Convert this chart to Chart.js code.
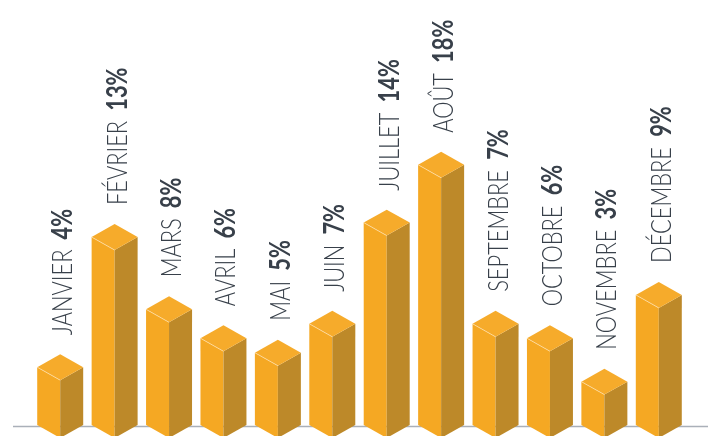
<!DOCTYPE html>
<html>
<head>
<meta charset="utf-8">
<script src="https://cdn.jsdelivr.net/npm/chart.js@4"></script>
<style>
  body { margin: 0; background: #fff; }
  #wrap { width: 708px; height: 436px; }
</style>
</head>
<body>
<div id="wrap"><canvas id="myChart"></canvas></div>
<script>
const months = ['JANVIER', 'FÉVRIER', 'MARS', 'AVRIL', 'MAI', 'JUIN', 'JUILLET', 'AOÛT', 'SEPTEMBRE', 'OCTOBRE', 'NOVEMBRE', 'DÉCEMBRE'];
const shares = [4, 13, 8, 6, 5, 7, 14, 18, 7, 6, 3, 9];
const shareLabels = shares.map(v => v + '%');

// 3d look: front-left face, right face, top
const frontColor = '#f5a823';
const sideColor = '#bd8929';
const topColor = '#f6ab2b';
const textColor = '#38404a';

const prisms = {
  id: 'prisms',
  beforeDatasetsDraw(chart) {
    const ctx = chart.ctx;
    const y = chart.chartArea.bottom + 1.5;
    ctx.save();
    ctx.strokeStyle = '#aab0b9';
    ctx.lineWidth = 1.5;
    ctx.beginPath();
    ctx.moveTo(13, y);
    ctx.lineTo(chart.width, y);
    ctx.stroke();
    ctx.restore();
  },
  afterDatasetsDraw(chart) {
    const ctx = chart.ctx;
    const meta = chart.getDatasetMeta(0);
    meta.data.forEach((bar, i) => {
      const x = bar.x, y = bar.y, base = bar.base;
      const hw = bar.width / 2, dy = hw * 0.565;
      ctx.save();
      // front-left face
      ctx.fillStyle = frontColor;
      ctx.beginPath();
      ctx.moveTo(x - hw, y);
      ctx.lineTo(x, y + dy);
      ctx.lineTo(x, base + dy);
      ctx.lineTo(x - hw, base);
      ctx.closePath();
      ctx.fill();
      // right face
      ctx.fillStyle = sideColor;
      ctx.beginPath();
      ctx.moveTo(x, y + dy);
      ctx.lineTo(x + hw, y);
      ctx.lineTo(x + hw, base);
      ctx.lineTo(x, base + dy);
      ctx.closePath();
      ctx.fill();
      // top
      ctx.fillStyle = topColor;
      ctx.beginPath();
      ctx.moveTo(x - hw, y);
      ctx.lineTo(x, y - dy);
      ctx.lineTo(x + hw, y);
      ctx.lineTo(x, y + dy);
      ctx.closePath();
      ctx.fill();
      // light edge
      ctx.strokeStyle = 'rgba(255,232,190,0.8)';
      ctx.lineWidth = 0.8;
      ctx.beginPath();
      ctx.moveTo(x - hw, y);
      ctx.lineTo(x, y + dy);
      ctx.stroke();
      ctx.restore();

      // label, rotated, reads bottom to top
      ctx.save();
      ctx.translate(x + 12, y - dy - 19);
      ctx.rotate(-Math.PI / 2);
      ctx.scale(0.78, 1);
      ctx.fillStyle = textColor;
      ctx.textAlign = 'left';
      ctx.textBaseline = 'alphabetic';
      ctx.font = '300 28px Lato';
      ctx.fillText(months[i], 0, 0);
      const w = ctx.measureText(months[i]).width;
      ctx.font = '700 28px Lato';
      ctx.fillText(shareLabels[i], w + 13, 0);
      ctx.restore();
    });
  }
};

const data = {
  labels: months,
  datasets: [{
    data: shares,
    backgroundColor: 'rgba(0,0,0,0)',
    borderWidth: 0,
    barPercentage: 0.845,
    categoryPercentage: 1
  }]
};

const config = {
  type: 'bar',
  data: data,
  options: {
    responsive: true,
    maintainAspectRatio: false,
    animation: false,
    layout: { padding: { left: 33, right: 22, top: 0, bottom: 11 } },
    scales: {
      x: { display: false },
      y: { display: false, min: 0, max: 29.4 }
    },
    plugins: {
      legend: { display: false },
      tooltip: { enabled: false }
    }
  },
  plugins: [prisms]
};

const myChart = new Chart(document.getElementById('myChart'), config);
</script>
</body>
</html>
